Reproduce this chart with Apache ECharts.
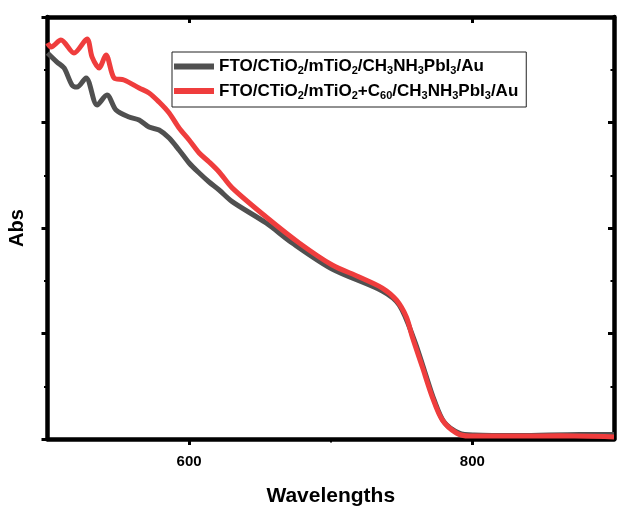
<!DOCTYPE html>
<html>
<head>
<meta charset="utf-8">
<script src="https://cdn.jsdelivr.net/npm/echarts@6/dist/echarts.min.js"></script>
<style>html,body{margin:0;padding:0;background:#fff}#c{width:617px;height:506px}</style>
</head>
<body>
<div id="c"></div>
<script>
const seriesNames = ['FTO/CTiO2/mTiO2/CH3NH3PbI3/Au', 'FTO/CTiO2/mTiO2+C60/CH3NH3PbI3/Au'];
const legendRich = [
  'FTO/CTiO{s|2}/mTiO{s|2}/CH{s|3}NH{s|3}PbI{s|3}/Au',
  'FTO/CTiO{s|2}/mTiO{s|2}+C{s|60}/CH{s|3}NH{s|3}PbI{s|3}/Au'
];
const xTickLabels = [600, 800];
const grayWl = [500, 506.7, 511.7, 517.3, 520.8, 527.2, 535, 542, 548.4, 557.6, 564.7, 571.7, 578.8, 585.9, 592.9, 600, 607.1, 614.1, 621.2, 630.4, 654.4, 672.8, 701, 736.4, 748.4, 759, 766, 773, 780, 790.6, 801.2, 833, 875.6, 900];
const grayAbs = [3.659, 3.573, 3.517, 3.355, 3.336, 3.422, 3.166, 3.261, 3.118, 3.052, 3.024, 2.957, 2.929, 2.853, 2.739, 2.616, 2.521, 2.436, 2.360, 2.250, 2.047, 1.858, 1.611, 1.403, 1.270, 0.938, 0.654, 0.370, 0.161, 0.057, 0.038, 0.033, 0.043, 0.043];
const redWl = [500, 502.5, 509.5, 518.7, 527.9, 531.5, 536.4, 541.3, 547, 554, 564.7, 571.7, 578.8, 585.9, 592.9, 600, 607.1, 614.1, 621.2, 630.4, 654.4, 677.7, 701, 720.1, 736.4, 746.3, 753.4, 757.6, 764.7, 771.7, 778.8, 788.7, 797.9, 833, 861.5, 900];
const redAbs = [3.754, 3.716, 3.782, 3.659, 3.791, 3.62, 3.517, 3.640, 3.422, 3.403, 3.327, 3.280, 3.194, 3.090, 2.948, 2.834, 2.711, 2.626, 2.531, 2.380, 2.104, 1.858, 1.649, 1.536, 1.431, 1.318, 1.156, 0.967, 0.682, 0.398, 0.180, 0.057, 0.028, 0.028, 0.030, 0.020];
const colors = ['#505050', '#ef3d3d'];

const FONT = 'Arial, "Liberation Sans", sans-serif';
const chart = echarts.init(document.getElementById('c'), null, {renderer: 'canvas'});
const lineAxis = {show: true, onZero: false, lineStyle: {color: '#000', width: 4.5}};
chart.setOption({
  animation: false,
  backgroundColor: '#fff',
  grid: {left: 47.5, right: 3, top: 17, bottom: 67, containLabel: false, outerBoundsMode: 'none'},
  legend: {
    orient: 'vertical', left: 172, top: 52,
    data: seriesNames,
    icon: 'rect', itemWidth: 40, itemHeight: 6, itemGap: 6,
    padding: [6, 8, 6, 2],
    borderColor: '#222', borderWidth: 1,
    formatter: name => legendRich[seriesNames.indexOf(name)],
    textStyle: {
      fontFamily: FONT, fontWeight: 'bold', fontSize: 17, color: '#000',
      rich: {s: {fontFamily: FONT, fontWeight: 'bold', fontSize: 11, verticalAlign: 'bottom', padding: [9, 0, 0, 0], color: '#000'}}
    }
  },
  xAxis: [
    {type: 'value', position: 'bottom', min: 500, max: 900, interval: 100,
     axisLine: lineAxis, splitLine: {show: false},
     axisTick: {show: true, customValues: xTickLabels, length: 6, lineStyle: {width: 3, color: '#000'}},
     axisLabel: {show: true, customValues: xTickLabels, margin: 15, fontFamily: FONT, fontWeight: 'bold', fontSize: 15, color: '#000'},
     name: 'Wavelengths', nameLocation: 'middle', nameGap: 47,
     nameTextStyle: {fontFamily: FONT, fontWeight: 'bold', fontSize: 21, color: '#000'}},
    {type: 'value', position: 'top', min: 500, max: 900, interval: 100,
     axisLine: lineAxis, splitLine: {show: false},
     axisTick: {show: true, inside: true, customValues: xTickLabels, length: 6, lineStyle: {width: 3, color: '#000'}},
     axisLabel: {show: false}},
    {type: 'value', position: 'bottom', min: 500, max: 900, interval: 100,
     axisLine: {show: false}, splitLine: {show: false},
     axisTick: {show: true, customValues: [700], length: 3.5, lineStyle: {width: 2, color: '#000'}},
     axisLabel: {show: false}}
  ],
  yAxis: [
    {type: 'value', position: 'left', min: 0, max: 4, interval: 1,
     axisLine: lineAxis, splitLine: {show: false},
     axisTick: {show: true, length: 6, lineStyle: {width: 3, color: '#000'}},
     minorTick: {show: true, splitNumber: 2, length: 3.5, lineStyle: {width: 2, color: '#000'}},
     axisLabel: {show: false},
     name: 'Abs', nameLocation: 'middle', nameGap: 20, nameRotate: 90,
     nameTextStyle: {fontFamily: FONT, fontWeight: 'bold', fontSize: 20, color: '#000'}},
    {type: 'value', position: 'right', min: 0, max: 4, interval: 1,
     axisLine: lineAxis, splitLine: {show: false},
     axisTick: {show: true, inside: true, length: 6, lineStyle: {width: 3, color: '#000'}},
     minorTick: {show: true, splitNumber: 2, length: 3.5, lineStyle: {width: 2, color: '#000'}},
     axisLabel: {show: false}}
  ],
  series: [
    {name: seriesNames[0], type: 'line', xAxisIndex: 0, yAxisIndex: 0, showSymbol: false, smooth: 0.3,
     data: grayWl.map((x, i) => [x, grayAbs[i]]), lineStyle: {color: colors[0], width: 5}, itemStyle: {color: colors[0]}, z: 2},
    {name: seriesNames[1], type: 'line', xAxisIndex: 0, yAxisIndex: 0, showSymbol: false, smooth: 0.3,
     data: redWl.map((x, i) => [x, redAbs[i]]), lineStyle: {color: colors[1], width: 5}, itemStyle: {color: colors[1]}, z: 3}
  ]
});
</script>
</body>
</html>
